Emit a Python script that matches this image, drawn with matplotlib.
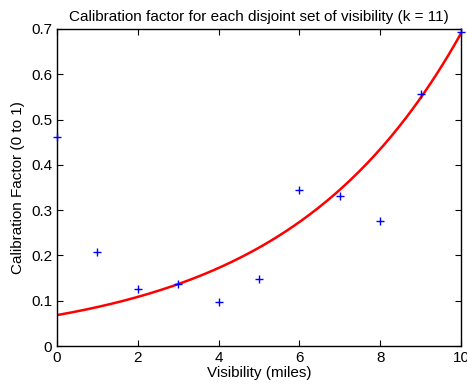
import numpy as np
import matplotlib
matplotlib.use('Agg')
import matplotlib.pyplot as plt

plt.rcParams['font.family'] = ['Liberation Sans', 'DejaVu Sans']

# calibration factor per visibility bin
visibility = [0, 1, 2, 3, 4, 5, 6, 7, 8, 9, 10]
calib = [0.461, 0.208, 0.127, 0.138, 0.097, 0.147, 0.344, 0.331, 0.275, 0.556, 0.693]

# exponential fit  y = a * exp(b * x)
fit_a = 0.0684
fit_b = 0.2311

fig = plt.figure(figsize=(4.67, 3.85), dpi=100)
ax = fig.add_axes([0.122, 0.101, 0.865, 0.824])

xs = np.linspace(0, 10, 200)
ax.plot(xs, fit_a * np.exp(fit_b * xs), '-', color='red', lw=1.8)
ax.plot(visibility, calib, '+', color='blue', ms=6, mew=1, clip_on=False, zorder=5)

ax.set_xlim(0, 10)
ax.set_ylim(0, 0.7)
ax.set_xticks([0, 2, 4, 6, 8, 10])
ax.set_yticks([0, 0.1, 0.2, 0.3, 0.4, 0.5, 0.6, 0.7])
ax.set_yticklabels(['0', '0.1', '0.2', '0.3', '0.4', '0.5', '0.6', '0.7'])
ax.tick_params(direction='in', length=4, labelsize=11, top=True, right=True)
for s in ax.spines.values():
    s.set_linewidth(1)

ax.set_xlabel('Visibility (miles)', fontsize=11, labelpad=1)
ax.set_ylabel('Calibration Factor (0 to 1)', fontsize=11, labelpad=4)
ax.set_title('Calibration factor for each disjoint set of visibility (k = 11)', fontsize=11, pad=6)

fig.savefig('out.png', dpi=100)
